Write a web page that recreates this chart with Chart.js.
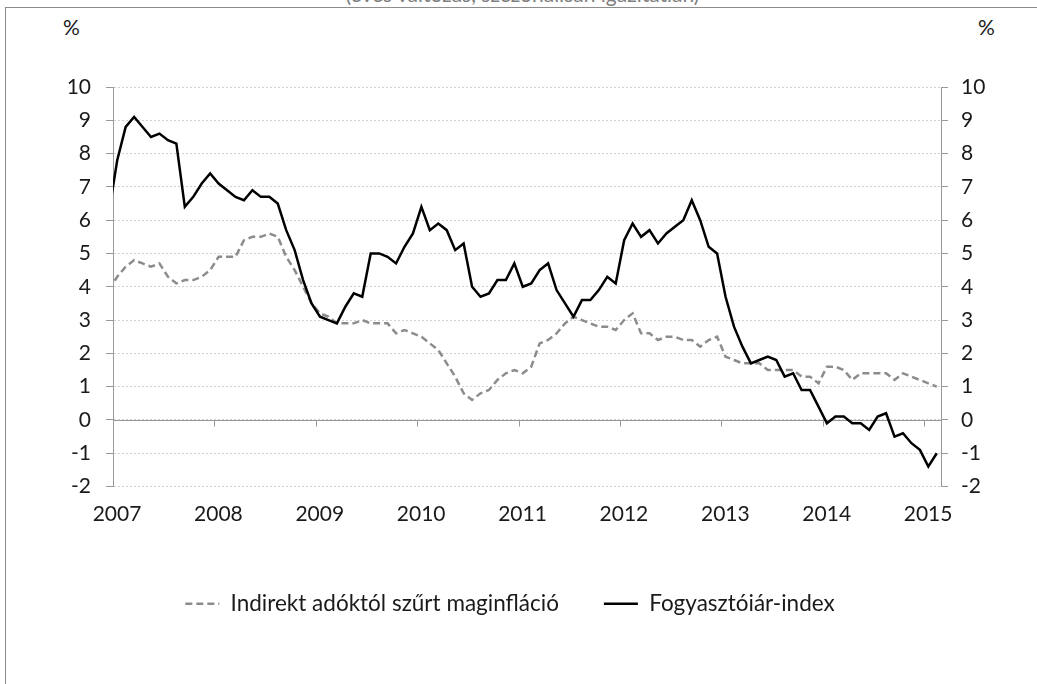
<!DOCTYPE html>
<html lang="hu">
<head>
  <meta charset="UTF-8" />
  <title>Fogyasztóiár-index és maginfláció</title>
  <script src="https://cdn.jsdelivr.net/npm/chart.js"></script>
  <style>
    html, body { margin: 0; padding: 0; background: #fff; }
    body { width: 1037px; height: 684px; position: relative; overflow: hidden; font-family: Lato, sans-serif; }
    #frame { position: absolute; left: 5px; top: 7px; width: 1040px; height: 690px; border-top: 1px solid #8c8c8c; border-left: 1px solid #8c8c8c; }
    #subtitle { position: absolute; left: 0; width: 1045px; top: -19px; text-align: center; font-size: 21px; color: #808080; }
    .unit { position: absolute; top: 14px; font-size: 21px; color: #1a1a1a; }
    canvas { position: absolute; left: 0; top: 0; }
  </style>
</head>
<body>
  <div id="subtitle">(éves változás, szezonálisan igazítatlan)</div>
  <div id="frame"></div>
  <div class="unit" style="left:63px">%</div>
  <div class="unit" style="left:978px">%</div>
  <canvas id="chart" width="1037" height="684"></canvas>

  <script>
    // year labels on the horizontal axis
    const yearLabels = ['2007', '2008', '2009', '2010', '2011', '2012', '2013', '2014', '2015'];

    // monthly values, Dec 2006 ... Feb 2015 (%)
    const cpi = [6.2,
      7.8, 8.8, 9.1, 8.8, 8.5, 8.6, 8.4, 8.3, 6.4, 6.7, 7.1, 7.4,
      7.1, 6.9, 6.7, 6.6, 6.9, 6.7, 6.7, 6.5, 5.7, 5.1, 4.2, 3.5,
      3.1, 3.0, 2.9, 3.4, 3.8, 3.7, 5.0, 5.0, 4.9, 4.7, 5.2, 5.6,
      6.4, 5.7, 5.9, 5.7, 5.1, 5.3, 4.0, 3.7, 3.8, 4.2, 4.2, 4.7,
      4.0, 4.1, 4.5, 4.7, 3.9, 3.5, 3.1, 3.6, 3.6, 3.9, 4.3, 4.1,
      5.4, 5.9, 5.5, 5.7, 5.3, 5.6, 5.8, 6.0, 6.6, 6.0, 5.2, 5.0,
      3.7, 2.8, 2.2, 1.7, 1.8, 1.9, 1.8, 1.3, 1.4, 0.9, 0.9, 0.4,
      -0.1, 0.1, 0.1, -0.1, -0.1, -0.3, 0.1, 0.2, -0.5, -0.4, -0.7, -0.9,
      -1.4, -1.0];

    const coreInfl = [3.9,
      4.3, 4.6, 4.8, 4.7, 4.6, 4.7, 4.3, 4.1, 4.2, 4.2, 4.3, 4.5,
      4.9, 4.9, 4.9, 5.4, 5.5, 5.5, 5.6, 5.5, 4.9, 4.5, 4.0, 3.5,
      3.2, 3.1, 2.9, 2.9, 2.9, 3.0, 2.9, 2.9, 2.9, 2.6, 2.7, 2.6,
      2.5, 2.3, 2.1, 1.7, 1.3, 0.8, 0.6, 0.8, 0.9, 1.2, 1.4, 1.5,
      1.4, 1.6, 2.3, 2.4, 2.6, 2.9, 3.1, 3.0, 2.9, 2.8, 2.8, 2.7,
      3.0, 3.2, 2.6, 2.6, 2.4, 2.5, 2.5, 2.4, 2.4, 2.2, 2.4, 2.5,
      1.9, 1.8, 1.7, 1.7, 1.7, 1.5, 1.5, 1.5, 1.5, 1.3, 1.3, 1.1,
      1.6, 1.6, 1.5, 1.2, 1.4, 1.4, 1.4, 1.4, 1.2, 1.4, 1.3, 1.2,
      1.1, 1.0];

    const seriesNames = ['Indirekt adóktól szűrt maginfláció', 'Fogyasztóiár-index'];
    const yMin = -2, yMax = 10;

    // month i sits in the middle of its month; the first value is Dec 2006
    const toPoints = arr => arr.map((v, i) => ({ x: i - 0.5, y: v }));

    // solid zero line with year tick marks
    const zeroLine = {
      id: 'zeroLine',
      beforeDatasetsDraw(chart) {
        const { ctx, chartArea, scales: { x, y } } = chart;
        const y0 = Math.round(y.getPixelForValue(0)) + 0.5;
        ctx.save();
        ctx.strokeStyle = '#999';
        ctx.lineWidth = 1;
        ctx.beginPath();
        ctx.moveTo(chartArea.left, y0);
        ctx.lineTo(chartArea.right, y0);
        x.ticks.forEach(t => {
          const px = Math.round(x.getPixelForValue(t.value)) + 0.5;
          ctx.moveTo(px, y0);
          ctx.lineTo(px, y0 + 6);
        });
        ctx.stroke();
        ctx.restore();
      }
    };

    Chart.defaults.font.family = 'Lato';
    Chart.defaults.font.size = 21;
    Chart.defaults.color = '#1a1a1a';

    const yTickOpts = { stepSize: 1, color: '#1a1a1a', font: { size: 21 } };

    new Chart(document.getElementById('chart'), {
      type: 'line',
      data: {
        datasets: [
          {
            label: seriesNames[0],
            data: toPoints(coreInfl),
            borderColor: '#8c8c8c',
            borderWidth: 2.5,
            borderDash: [7, 4],
            pointRadius: 0,
            tension: 0,
            order: 2
          },
          {
            label: seriesNames[1],
            data: toPoints(cpi),
            borderColor: '#000',
            borderWidth: 2.5,
            pointRadius: 0,
            tension: 0,
            order: 1
          }
        ]
      },
      options: {
        responsive: false,
        animation: false,
        layout: { padding: { left: 0, right: 17, top: 87, bottom: 59 } },
        plugins: {
          tooltip: { enabled: false },
          legend: {
            position: 'bottom',
            labels: {
              usePointStyle: true,
              pointStyle: 'line',
              pointStyleWidth: 34,
              padding: 45,
              color: '#1a1a1a',
              font: { size: 22.5 },
              // keep dataset order and the dashed sample
              generateLabels: chart => {
                const items = Chart.defaults.plugins.legend.labels.generateLabels(chart);
                items.forEach(it => {
                  const ds = chart.data.datasets[it.datasetIndex];
                  it.lineDash = ds.borderDash || [];
                  it.strokeStyle = ds.borderColor;
                  it.lineWidth = ds.borderWidth;
                  it.pointStyle = 'line';
                });
                return items.sort((a, b) => a.datasetIndex - b.datasetIndex);
              }
            }
          }
        },
        scales: {
          x: {
            type: 'linear',
            min: 0,
            max: 98,
            grid: { display: false, drawTicks: false },
            border: { display: false },
            afterBuildTicks: axis => {
              axis.ticks = yearLabels.map((_, k) => ({ value: k * 12 }));
            },
            ticks: {
              padding: 15,
              labelOffset: 4,
              maxRotation: 0,
              autoSkip: false,
              callback: v => yearLabels[v / 12]
            },
            afterFit: s => { s.height = 61; }
          },
          y: {
            position: 'left',
            min: yMin,
            max: yMax,
            grid: { color: '#d0d0d0', tickLength: 7, tickColor: '#999' },
            border: { color: '#999', dash: [2, 2] },
            ticks: { ...yTickOpts, padding: 15 },
            afterFit: s => { s.width = 113; }
          },
          y2: {
            position: 'right',
            min: yMin,
            max: yMax,
            grid: { drawOnChartArea: false, tickLength: 7, tickColor: '#999' },
            border: { color: '#999' },
            ticks: { ...yTickOpts, padding: 13 },
            afterFit: s => { s.width = 79; }
          }
        }
      },
      plugins: [zeroLine]
    });
  </script>
</body>
</html>
